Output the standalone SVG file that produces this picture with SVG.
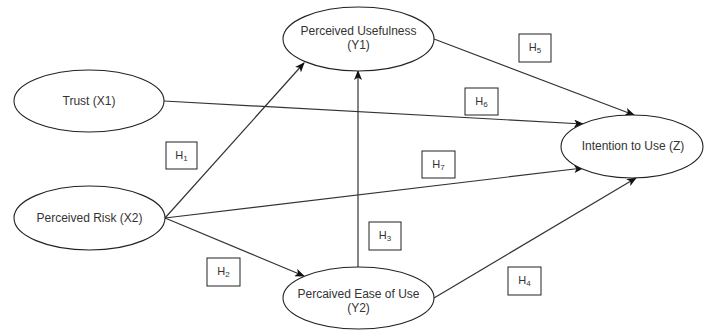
<svg xmlns="http://www.w3.org/2000/svg" width="704" height="333" viewBox="0 0 704 333">
<defs>
<marker id="arr" markerWidth="10" markerHeight="8" refX="9" refY="4" orient="auto" markerUnits="userSpaceOnUse">
<path d="M0,0 L10,4 L0,8 L2.5,4 Z" fill="#111"/>
</marker>
<style>
.node ellipse{fill:#fff;stroke:#222;stroke-width:1.1}
.node text{font-family:"Liberation Sans",Arial,sans-serif;font-size:12px;fill:#333;text-anchor:middle}
.conn line{stroke:#333;stroke-width:1.2;marker-end:url(#arr)}
.lab rect{fill:#fff;stroke:#222;stroke-width:1}
.lab text{font-family:"Liberation Sans",Arial,sans-serif;font-size:11px;fill:#333;text-anchor:middle}
.lab tspan.s{font-size:8px}
</style>
</defs>
<rect width="704" height="333" fill="#fff"/>
<g id="connectors" class="conn">
<line x1="164" y1="101" x2="583" y2="124"/>
<line x1="165" y1="218" x2="304" y2="63"/>
<line x1="165" y1="218" x2="583" y2="168"/>
<line x1="165" y1="218" x2="304" y2="276"/>
<line x1="358" y1="267" x2="358" y2="71"/>
<line x1="434" y1="39" x2="634" y2="115"/>
<line x1="434" y1="298" x2="636" y2="178"/>
</g>
<g id="trust" class="node"><ellipse cx="89" cy="101" rx="75" ry="31"/><text x="89" y="105">Trust (X1)</text></g>
<g id="risk" class="node"><ellipse cx="89.5" cy="218" rx="75.5" ry="32"/><text x="89.5" y="222">Perceived Risk (X2)</text></g>
<g id="usefulness" class="node"><ellipse cx="358.5" cy="39" rx="75.5" ry="32"/><text x="358.5" y="35">Perceived Usefulness</text><text x="358.5" y="49">(Y1)</text></g>
<g id="ease" class="node"><ellipse cx="358.5" cy="298" rx="75.5" ry="31"/><text x="358.5" y="298">Percaived Ease of Use</text><text x="358.5" y="312">(Y2)</text></g>
<g id="intention" class="node"><ellipse cx="632" cy="146.5" rx="71" ry="31.5"/><text x="633" y="150">Intention to Use (Z)</text></g>
<g id="h1" class="lab"><rect x="166" y="142" width="31" height="27"/><text x="181.5" y="159">H<tspan class="s" dy="2">1</tspan></text></g>
<g id="h2" class="lab"><rect x="207" y="258" width="33" height="28"/><text x="223.5" y="275">H<tspan class="s" dy="2">2</tspan></text></g>
<g id="h3" class="lab"><rect x="369" y="222" width="32" height="28"/><text x="385" y="239">H<tspan class="s" dy="2">3</tspan></text></g>
<g id="h4" class="lab"><rect x="508" y="267" width="33" height="28"/><text x="524.5" y="284">H<tspan class="s" dy="2">4</tspan></text></g>
<g id="h5" class="lab"><rect x="519" y="34" width="32" height="28"/><text x="535" y="51">H<tspan class="s" dy="2">5</tspan></text></g>
<g id="h6" class="lab"><rect x="465" y="88" width="33" height="27"/><text x="481.5" y="105">H<tspan class="s" dy="2">6</tspan></text></g>
<g id="h7" class="lab"><rect x="422" y="151" width="33" height="27"/><text x="438.5" y="168">H<tspan class="s" dy="2">7</tspan></text></g>
</svg>
